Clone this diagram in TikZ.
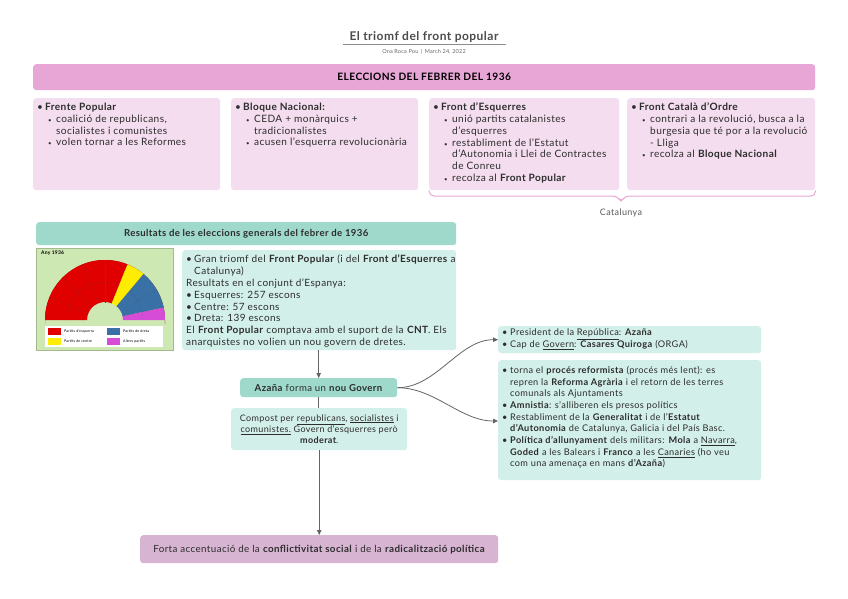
\documentclass[tikz,border=0pt]{standalone}
\usepackage{fontspec}
\setmainfont{Lato}[LetterSpace=4]
\usetikzlibrary{arrows.meta,positioning}
\definecolor{hdrpink}{RGB}{232,166,214}
\definecolor{boxpink}{RGB}{244,221,239}
\definecolor{tealdk}{RGB}{158,217,204}
\definecolor{teallt}{RGB}{211,239,233}
\definecolor{mauve}{RGB}{216,180,211}
\definecolor{txt}{RGB}{45,45,45}
\definecolor{lineg}{RGB}{100,100,100}
\definecolor{chartbg}{RGB}{205,232,178}
\newcommand{\mb}{\makebox[8pt][l]{•}}
\newcommand{\sbu}{\hspace*{11pt}\makebox[8pt][l]{\fontsize{6}{6}\selectfont•}}
\newcommand{\sind}{\hspace*{19pt}}
\newcommand{\mind}{\hspace*{8pt}}
\tikzset{
  boxbase/.style={rectangle, rounded corners=3pt, inner sep=0pt, anchor=north west},
  pinkbox/.style={boxbase, fill=boxpink},
  tealbox/.style={boxbase, fill=teallt},
  txtnode/.style={anchor=north west, align=left, inner sep=0pt, text=txt},
  arr/.style={draw=lineg, line width=0.8pt, -{Triangle[length=5pt,width=4.5pt]}},
  plain/.style={draw=lineg, line width=0.8pt},
}
\begin{document}
\begin{tikzpicture}[x=1pt,y=-1pt]
\useasboundingbox[fill=white] (0,0) rectangle (848,599);
% title
\node[text=black!70, font=\fontsize{12}{14}\selectfont\bfseries] (title) at (424,37) {El triomf del front popular};
\draw[black!45, line width=1pt] (343,45) -- (506,45);
\node[text=black!60, font=\fontsize{5.5}{6}\selectfont] (sub) at (424,52) {Ona Roca Pou \,|\, March 24, 2022};
% header
\node[boxbase, fill=hdrpink, minimum width=782, minimum height=26] (hdr) at (33,64) {};
\node[text=black, font=\fontsize{10.2}{11}\selectfont\bfseries] at (hdr.center) {ELECCIONS DEL FEBRER DEL 1936};
% four boxes
\node[pinkbox, minimum width=187, minimum height=92] (b1) at (33,98) {};
\node[pinkbox, minimum width=187, minimum height=92] (b2) at (231,98) {};
\node[pinkbox, minimum width=190, minimum height=92] (b3) at (429,98) {};
\node[pinkbox, minimum width=188, minimum height=92] (b4) at (627,98) {};
\tikzset{toptxt/.style={txtnode, font=\fontsize{10.1}{11.7}\selectfont}}
\node[toptxt] at ([xshift=4pt,yshift=-5pt]b1.north west) {\mb\textbf{Frente Popular}\\
\sbu coalició de republicans,\\
\sind socialistes i comunistes\\
\sbu volen tornar a les Reformes};
\node[toptxt] at ([xshift=4pt,yshift=-5pt]b2.north west) {\mb\textbf{Bloque Nacional:}\\
\sbu CEDA + monàrquics +\\
\sind tradicionalistes\\
\sbu acusen l'esquerra revolucionària};
\node[toptxt] at ([xshift=4pt,yshift=-5pt]b3.north west) {\mb\textbf{Front d'Esquerres}\\
\sbu unió partits catalanistes\\
\sind d'esquerres\\
\sbu restabliment de l'Estatut\\
\sind d'Autonomia i Llei de Contractes\\
\sind de Conreu\\
\sbu recolza al \textbf{Front Popular}};
\node[toptxt] at ([xshift=4pt,yshift=-5pt]b4.north west) {\mb\textbf{Front Català d'Ordre}\\
\sbu contrari a la revolució, busca a la\\
\sind burgesia que té por a la revolució\\
\sind - Lliga\\
\sbu recolza al \textbf{Bloque Nacional}};
% brace
\draw[hdrpink, line width=1pt, rounded corners=4pt] (b3.south west) -- (430,196) -- (617,196) -- (621,202) -- (625,196) -- (815,196) -- (b4.south east);
\node[text=black!65, font=\fontsize{9}{10}\selectfont] (cat) at (621,213) {Catalunya};
% results header
\node[boxbase, fill=tealdk, minimum width=420, minimum height=23] (rh) at (36,222) {};
\node[text=txt, font=\fontsize{9.6}{11}\selectfont\bfseries] at (rh.center) {Resultats de les eleccions generals del febrer de 1936};
% chart image
\node[boxbase, rounded corners=0pt, fill=chartbg, draw=chartbg!80!black, line width=0.4pt, minimum width=137, minimum height=102] (img) at (36,248) {};
\begin{scope}[x=1pt,y=1pt,shift={(105pt,-320pt)}]
  \fill[red!55!black] (180:60) ++(0,-4) arc[start angle=180,end angle=0,radius=60] -- ++(0,4) arc[start angle=0,end angle=180,radius=60] -- cycle;
  \fill[red!88!black] (180:60) arc[start angle=180,end angle=68,radius=60] -- (68:18) arc[start angle=68,end angle=180,radius=18] -- cycle;
  \fill[yellow!95!orange] (68:60) arc[start angle=68,end angle=50,radius=60] -- (50:18) arc[start angle=50,end angle=68,radius=18] -- cycle;
  \fill[cyan!60!blue!75!black] (50:60) arc[start angle=50,end angle=12,radius=60] -- (12:18) arc[start angle=12,end angle=50,radius=18] -- cycle;
  \fill[violet!45!magenta!70] (12:60) arc[start angle=12,end angle=0,radius=60] -- (0:18) arc[start angle=0,end angle=12,radius=18] -- cycle;
  \foreach \a in {158,135,112,90,68,50,30,12}
    \draw[black!70, line width=0.3pt, densely dotted] (\a:18) -- (\a:60);
  \draw[black!70, line width=0.3pt, densely dotted] (180:38) arc[start angle=180,end angle=68,radius=38];
  \draw[black!70, line width=0.3pt, densely dotted] (50:38) arc[start angle=50,end angle=0,radius=38];
\end{scope}
\node[anchor=north west, inner sep=0pt, font=\fontsize{5}{5}\selectfont\bfseries] (any) at (41,251) {Any 1936};
\node[boxbase, rounded corners=0pt, fill=white, minimum width=118, minimum height=21] (leg) at (45,326) {};
\fill[red!88!black] (48,327.5) rectangle (61,335);
\fill[yellow!95!orange] (48,337.5) rectangle (61,345);
\fill[cyan!60!blue!75!black] (107,327.5) rectangle (120,335);
\fill[violet!45!magenta!70] (107,337.5) rectangle (120,345);
\tikzset{legtxt/.style={anchor=west, inner sep=0pt, font=\fontsize{3.6}{4}\selectfont}}
\node[legtxt] at (64,331) {Partits d'esquerra};
\node[legtxt] at (64,341) {Partits de centre};
\node[legtxt] at (123,331) {Partits de dreta};
\node[legtxt] at (123,341) {Altres partits};
% results text
\node[tealbox, minimum width=274, minimum height=100] (res) at (182,250) {};
\node[txtnode, font=\fontsize{10}{11.8}\selectfont] at ([xshift=4pt,yshift=-5pt]res.north west) {\mb Gran triomf del \textbf{Front Popular} (i del \textbf{Front d'Esquerres} a\\
\mind Catalunya)\\
Resultats en el conjunt d'Espanya:\\
\mb Esquerres: 257 escons\\
\mb Centre: 57 escons\\
\mb Dreta: 139 escons\\
El \textbf{Front Popular} comptava amb el suport de la \textbf{CNT}. Els\\
anarquistes no volien un nou govern de dretes.};
% Azaña box
\node[boxbase, fill=tealdk, minimum width=157, minimum height=19] (az) at (240,378) {};
\node[text=txt, font=\fontsize{9.6}{11}\selectfont] at (az.center) {\textbf{Azaña} forma un \textbf{nou Govern}};
% compost box
\node[tealbox, minimum width=176, minimum height=42] (cp) at (231,408) {};
\node[text=txt, align=center, inner sep=0pt, font=\fontsize{9}{11.4}\selectfont] at (cp.center) {Compost per \underline{republicans}, \underline{socialistes} i\\
\underline{comunistes.} Govern d'esquerres però\\
\textbf{moderat}.};
% final box
\node[boxbase, fill=mauve, minimum width=358, minimum height=28] (ft) at (140,535) {};
\node[text=txt, font=\fontsize{9.8}{11}\selectfont] at (ft.center) {Forta accentuació de la \textbf{conflictivitat social} i de la \textbf{radicalització política}};
% right boxes
\node[tealbox, minimum width=263, minimum height=27] (r1) at (498,326) {};
\node[txtnode, font=\fontsize{9.2}{11.8}\selectfont] at ([xshift=4pt,yshift=-3pt]r1.north west) {\mb President de la \underline{República}: \textbf{Azaña}\\
\mb Cap de \underline{Govern}: \textbf{Casares Quiroga} (ORGA)};
\node[tealbox, minimum width=263, minimum height=120] (r2) at (498,360) {};
\node[txtnode, font=\fontsize{9.2}{11.7}\selectfont] at ([xshift=4pt,yshift=-6pt]r2.north west) {\mb torna el \textbf{procés reformista} (procés més lent): es\\
\mind repren la \textbf{Reforma Agrària} i el retorn de les terres\\
\mind comunals als Ajuntaments\\
\mb\textbf{Amnistia}: s'alliberen els presos polítics\\
\mb Restabliment de la \textbf{Generalitat} i de l'\textbf{Estatut}\\
\mind\textbf{d'Autonomia} de Catalunya, Galicia i del País Basc.\\
\mb\textbf{Política d'allunyament} dels militars: \textbf{Mola} a \underline{Navarra},\\
\mind\textbf{Goded} a les Balears i \textbf{Franco} a les \underline{Canaries} (ho veu\\
\mind com una amenaça en mans \textbf{d'Azaña})};
% connectors
\draw[arr] (az.north |- res.south) -- (az.north);
\draw[plain] (az.south) -- (az.south |- cp.north);
\draw[arr] (cp.south -| ft.north) -- (ft.north);
\draw[arr] (az.east) to[out=0,in=180,looseness=0.9] (r1.west);
\draw[arr] (az.east) to[out=0,in=180,looseness=0.9] ([yshift=-61pt]r2.north west);
\end{tikzpicture}
\end{document}
